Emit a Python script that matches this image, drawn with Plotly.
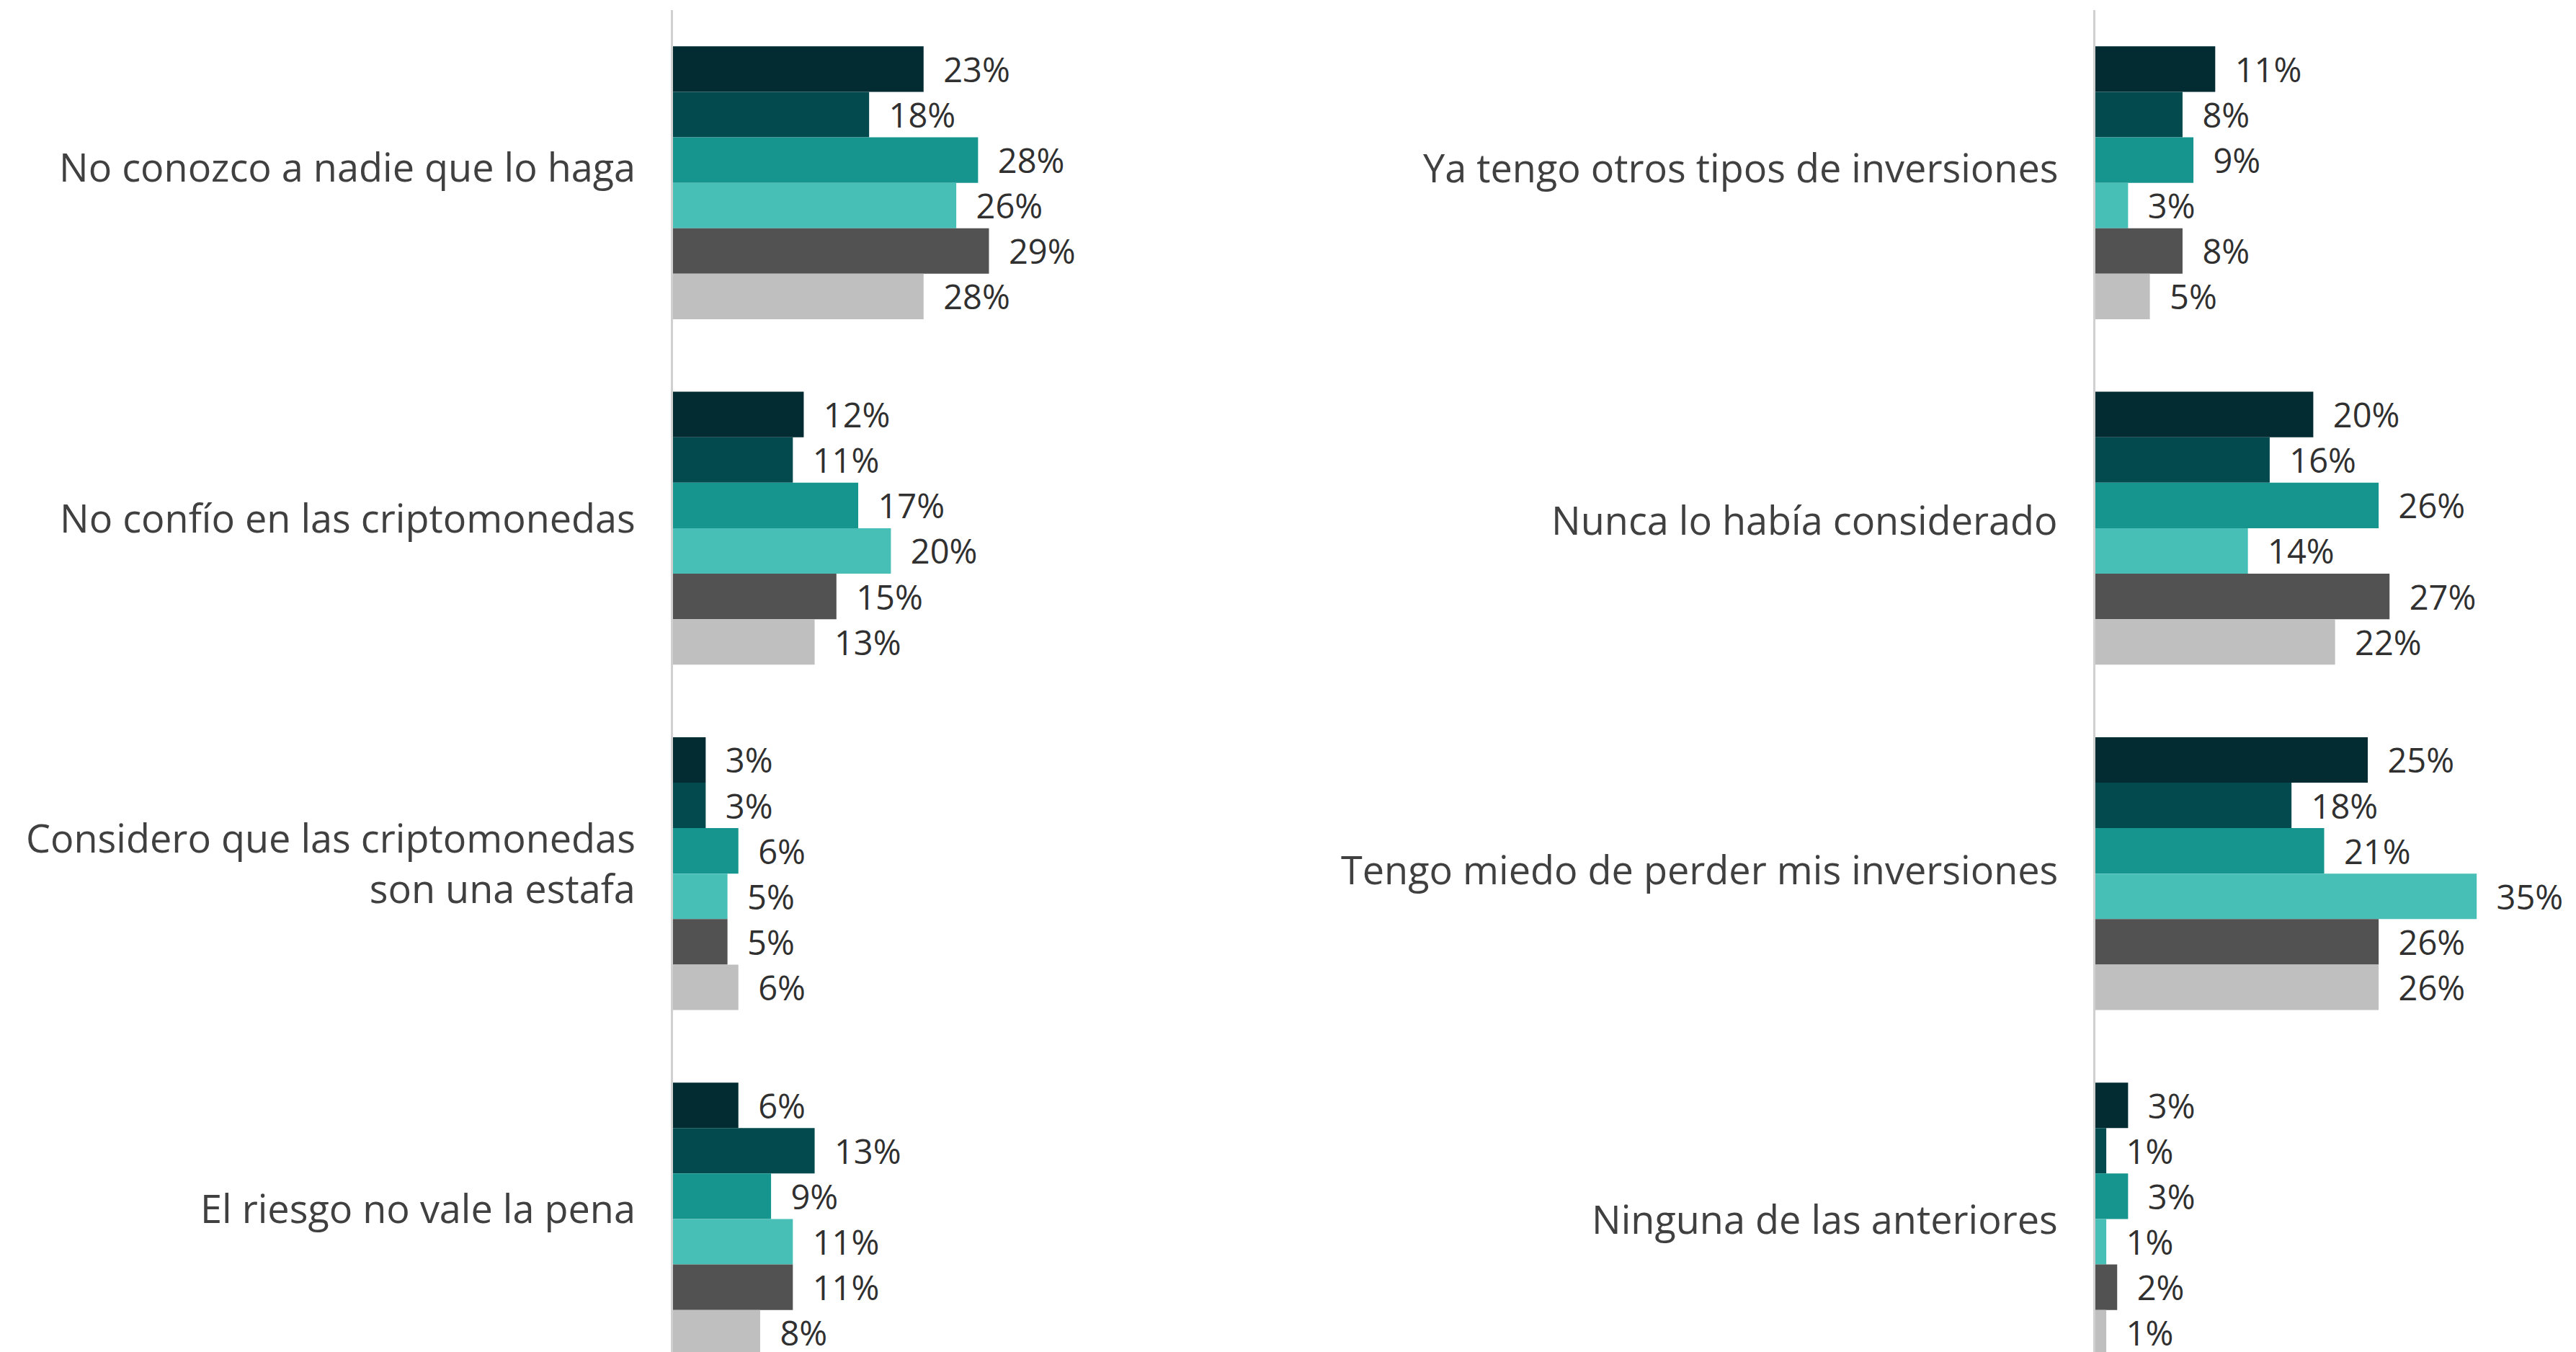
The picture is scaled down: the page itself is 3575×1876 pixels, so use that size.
import plotly.graph_objects as go

# ---------------- data ----------------
left_categories = [
    "No conozco a nadie que lo haga",
    "No confío en las criptomonedas",
    "Considero que las criptomonedas<br>son una estafa",
    "El riesgo no vale la pena",
]
right_categories = [
    "Ya tengo otros tipos de inversiones",
    "Nunca lo había considerado",
    "Tengo miedo de perder mis inversiones",
    "Ninguna de las anteriores",
]
series_names = ["Serie 1", "Serie 2", "Serie 3", "Serie 4", "Serie 5", "Serie 6"]

# bar lengths (%) per series, left panel
left_s1 = [23, 12, 3, 6]
left_s2 = [18, 11, 3, 13]
left_s3 = [28, 17, 6, 9]
left_s4 = [26, 20, 5, 11]
left_s5 = [29, 15, 5, 11]
left_s6 = [23, 13, 6, 8]
left_values = [left_s1, left_s2, left_s3, left_s4, left_s5, left_s6]

# printed labels, left panel
left_l1 = ["23%", "12%", "3%", "6%"]
left_l2 = ["18%", "11%", "3%", "13%"]
left_l3 = ["28%", "17%", "6%", "9%"]
left_l4 = ["26%", "20%", "5%", "11%"]
left_l5 = ["29%", "15%", "5%", "11%"]
left_l6 = ["28%", "13%", "6%", "8%"]
left_labels = [left_l1, left_l2, left_l3, left_l4, left_l5, left_l6]

# bar lengths (%) per series, right panel
right_s1 = [11, 20, 25, 3]
right_s2 = [8, 16, 18, 1]
right_s3 = [9, 26, 21, 3]
right_s4 = [3, 14, 35, 1]
right_s5 = [8, 27, 26, 2]
right_s6 = [5, 22, 26, 1]
right_values = [right_s1, right_s2, right_s3, right_s4, right_s5, right_s6]

# printed labels, right panel
right_l1 = ["11%", "20%", "25%", "3%"]
right_l2 = ["8%", "16%", "18%", "1%"]
right_l3 = ["9%", "26%", "21%", "3%"]
right_l4 = ["3%", "14%", "35%", "1%"]
right_l5 = ["8%", "27%", "26%", "2%"]
right_l6 = ["5%", "22%", "26%", "1%"]
right_labels = [right_l1, right_l2, right_l3, right_l4, right_l5, right_l6]

colors = ["#022B32", "#024A4E", "#16948E", "#47BFB7", "#525252", "#BFBFBF"]

# ---------------- figure ----------------
W, H = 3575, 1876
FONT = "Open Sans"
LABEL_COLOR = "#404040"
VALUE_COLOR = "#303030"
PAD = "\u00a0\u00a0"

fig = go.Figure()

for i in range(6):
    fig.add_trace(go.Bar(
        name=series_names[i], orientation="h",
        y=left_categories, x=left_values[i],
        text=[PAD + t for t in left_labels[i]],
        textposition="outside", constraintext="none", cliponaxis=False,
        textfont=dict(family=FONT, size=47, color=VALUE_COLOR),
        marker=dict(color=colors[i], line=dict(width=0)),
        xaxis="x", yaxis="y", showlegend=False,
    ))
for i in range(6):
    fig.add_trace(go.Bar(
        name=series_names[i], orientation="h",
        y=right_categories, x=right_values[i],
        text=[PAD + t for t in right_labels[i]],
        textposition="outside", constraintext="none", cliponaxis=False,
        textfont=dict(family=FONT, size=47, color=VALUE_COLOR),
        marker=dict(color=colors[i], line=dict(width=0)),
        xaxis="x2", yaxis="y2", showlegend=False,
    ))

px_per_pct = 15.12
left_x0, left_x1 = 934, 1502
right_x0, right_x1 = 2908, 3575
top_px = 14
ydom = [0, 1 - top_px / H]
yrange = [3.385, -0.5]

common_x = dict(showgrid=False, zeroline=False, showticklabels=False, ticks="", showline=False)
common_y = dict(showgrid=False, zeroline=False, showticklabels=False, ticks="",
                showline=True, linecolor="#D0D0D0", linewidth=3, mirror=False,
                range=yrange, domain=ydom, type="category")

left_yshift = [23, 15, 15, 15]
right_yshift = [22, 12, 6, 0]

annotations = []
for cat, ys in zip(left_categories, left_yshift):
    annotations.append(dict(x=0, xref="x domain", y=cat, yref="y", text=cat,
                            xanchor="right", yanchor="middle", align="right",
                            xshift=-50, yshift=ys, showarrow=False,
                            font=dict(family=FONT, size=54, color=LABEL_COLOR)))
for cat, ys in zip(right_categories, right_yshift):
    annotations.append(dict(x=0, xref="x2 domain", y=cat, yref="y2", text=cat,
                            xanchor="right", yanchor="middle", align="right",
                            xshift=-50, yshift=ys, showarrow=False,
                            font=dict(family=FONT, size=54, color=LABEL_COLOR)))

fig.update_layout(
    width=W, height=H,
    margin=dict(l=0, r=0, t=0, b=0),
    paper_bgcolor="white", plot_bgcolor="white",
    barmode="group", bargap=0.21, bargroupgap=0,
    font=dict(family=FONT, color=LABEL_COLOR),
    xaxis=dict(domain=[left_x0 / W, left_x1 / W],
               range=[0, (left_x1 - left_x0) / px_per_pct], anchor="y", **common_x),
    xaxis2=dict(domain=[right_x0 / W, right_x1 / W],
                range=[0, (right_x1 - right_x0) / px_per_pct], anchor="y2", **common_x),
    yaxis=dict(anchor="x", **common_y),
    yaxis2=dict(anchor="x2", **common_y),
    annotations=annotations,
)

fig.write_html(
    "out.html",
    config={"displayModeBar": False},
    post_script="document.body.style.margin='0';document.body.style.overflow='hidden';",
)
